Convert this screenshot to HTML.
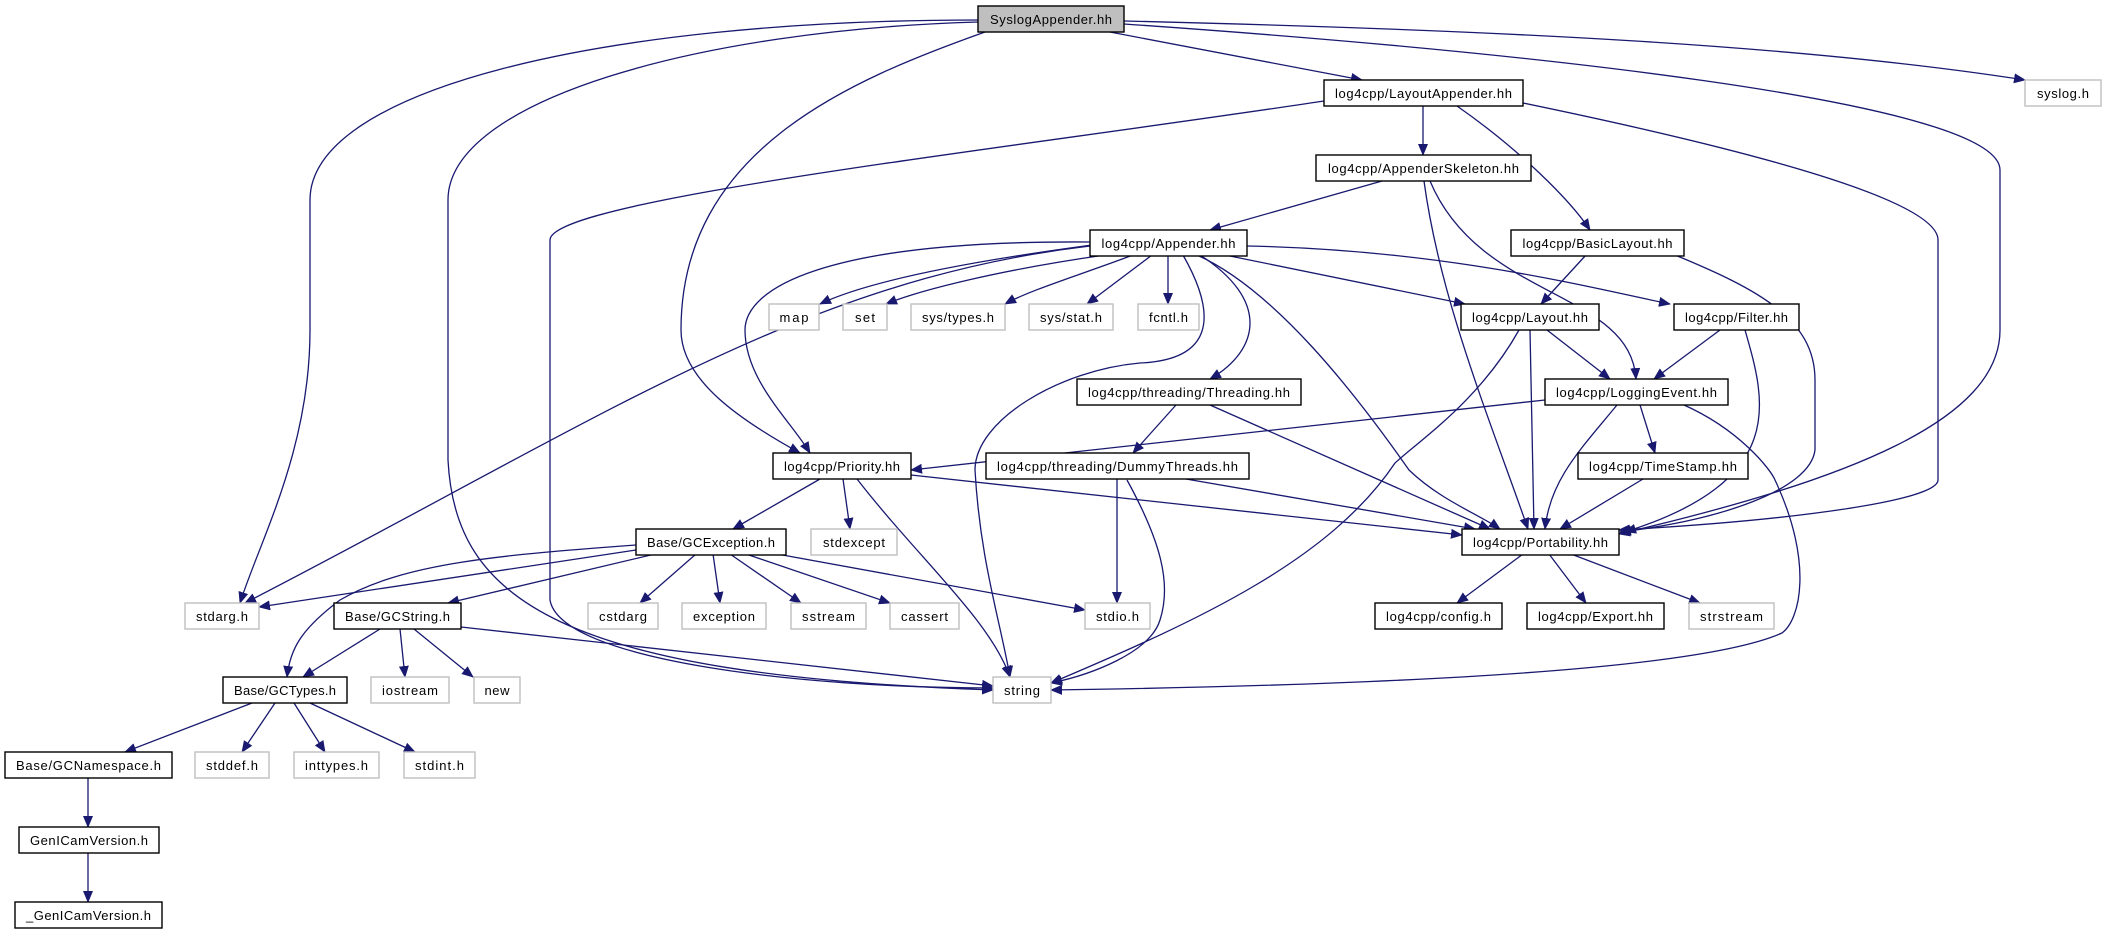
<!DOCTYPE html>
<html><head><meta charset="utf-8"><style>
html,body{margin:0;padding:0;background:#fff;}
svg{display:block}
text{font-family:"Liberation Sans",sans-serif;font-size:13px;fill:#000}
.e{fill:none;stroke:#191970;stroke-width:1.3}
.b{fill:#fff;stroke:#000;stroke-width:1.4}
.g{fill:#fff;stroke:#bfbfbf;stroke-width:1.4}
</style></head><body>
<svg width="2106" height="933" viewBox="0 0 2106 933" xmlns="http://www.w3.org/2000/svg">
<defs><marker id="a" markerUnits="userSpaceOnUse" markerWidth="12" markerHeight="10" refX="11" refY="5" orient="auto"><path d="M0,0 L12,5 L0,10 z" fill="#191970"/></marker></defs>
<g class="e" marker-end="url(#a)">
<!-- Syslog -->
<path d="M1110,32 L1362,80"/>
<path d="M1124,21 C1500,30 1800,45 2025,80"/>
<path d="M1124,24 C1500,50 2000,100 2000,170 L2000,330 C2000,420 1850,480 1619,534"/>
<path d="M978,20 C600,20 310,90 310,200 L310,330 C310,450 260,540 240,603"/>
<path d="M978,22 C700,30 448,100 448,200 L448,460 C455,600 560,675 993,690"/>
<path d="M985,32 C850,80 681,150 681,330 C681,380 740,420 800,453"/>
<!-- LayoutAppender -->
<path d="M1423,106 L1423,155"/>
<path d="M1457,106 C1520,150 1570,200 1590,230"/>
<path d="M1324,101 C1000,150 550,200 550,240 L550,600 C560,660 800,688 993,688"/>
<path d="M1523,103 C1750,150 1938,200 1938,240 L1938,480 C1938,500 1800,520 1619,530"/>
<!-- AppenderSkeleton -->
<path d="M1382,181 L1210,230"/>
<path d="M1424,181 C1440,300 1490,420 1528,529"/>
<path d="M1430,181 C1480,300 1630,290 1636,379"/>
<!-- BasicLayout -->
<path d="M1586,255 L1541,304"/>
<path d="M1675,255 C1760,290 1815,320 1815,380 L1815,450 C1810,490 1720,520 1620,532"/>
<!-- Appender -->
<path d="M1092,245 C980,260 870,280 820,304"/>
<path d="M1105,255 C1000,270 920,290 886,304"/>
<path d="M1133,255 C1080,275 1030,290 1005,304"/>
<path d="M1152,255 L1087,304"/>
<path d="M1168,255 L1168,304"/>
<path d="M1225,255 L1465,304"/>
<path d="M1247,246 C1450,250 1600,290 1670,304"/>
<path d="M1200,255 C1270,300 1260,350 1210,379"/>
<path d="M1090,242 C820,240 745,290 745,330 C745,380 790,420 810,453"/>
<path d="M1090,246 C800,280 600,420 245,603"/>
<path d="M1183,255 C1220,320 1210,360 1140,363 C1060,370 975,420 975,470 C980,560 1000,620 1010,677"/>
<path d="M1197,255 C1275,290 1355,393 1409,470 C1440,500 1480,515 1500,529"/>
<!-- Layout -->
<path d="M1547,330 L1610,379"/>
<path d="M1530,330 L1534,529"/>
<path d="M1519,330 C1480,400 1420,440 1395,463 C1330,560 1200,620 1051,683"/>
<!-- Filter -->
<path d="M1720,330 L1654,379"/>
<path d="M1745,330 C1765,400 1790,480 1625,532"/>
<!-- Threading -->
<path d="M1176,405 L1133,453"/>
<path d="M1210,405 L1490,529"/>
<!-- LoggingEvent -->
<path d="M1545,400 L911,470"/>
<path d="M1640,405 L1655,453"/>
<path d="M1617,405 C1580,450 1550,480 1545,529"/>
<path d="M1684,405 C1740,430 1771,470 1775,480 C1814,563 1800,620 1782,633 C1700,670 1400,685 1051,690"/>
<!-- Priority -->
<path d="M820,479 L733,529"/>
<path d="M843,479 L850,529"/>
<path d="M857,479 C920,560 990,620 1010,677"/>
<path d="M911,475 L1462,535"/>
<!-- DummyThreads -->
<path d="M1117,479 L1117,603"/>
<path d="M1127,480 C1160,540 1172,583 1160,620 C1150,653 1090,675 1051,683"/>
<path d="M1186,479 L1475,529"/>
<!-- TimeStamp -->
<path d="M1643,479 L1560,529"/>
<!-- GCException -->
<path d="M636,550 L259,607"/>
<path d="M636,545 C500,555 403,563 340,600 C300,630 290,650 287,677"/>
<path d="M655,554 L448,603"/>
<path d="M696,554 L640,603"/>
<path d="M713,554 L720,603"/>
<path d="M730,554 L801,603"/>
<path d="M746,554 L890,603"/>
<path d="M777,554 L1085,610"/>
<!-- GCString -->
<path d="M380,629 L303,677"/>
<path d="M400,629 L405,677"/>
<path d="M414,629 L473,677"/>
<path d="M461,627 L993,686"/>
<!-- GCTypes -->
<path d="M252,703 L125,752"/>
<path d="M275,703 L242,752"/>
<path d="M294,703 L325,752"/>
<path d="M310,703 L415,752"/>
<path d="M88,778 L88,827"/>
<path d="M88,852 L88,902"/>
<!-- Portability -->
<path d="M1523,554 L1457,603"/>
<path d="M1549,554 L1586,603"/>
<path d="M1571,554 L1700,603"/>
</g>
<g>
<rect x="978" y="6" width="146" height="26" fill="#bfbfbf" stroke="#000" stroke-width="1.4"/><text x="1051" y="24" text-anchor="middle" textLength="122">SyslogAppender.hh</text>
<rect class="b" x="1324" y="80" width="199" height="26"/><text x="1423.5" y="98" text-anchor="middle" textLength="177">log4cpp/LayoutAppender.hh</text>
<rect class="g" x="2025" y="80" width="76" height="26"/><text x="2063" y="98" text-anchor="middle" textLength="52">syslog.h</text>
<rect class="b" x="1316" y="155" width="215" height="26"/><text x="1423.5" y="173" text-anchor="middle" textLength="191">log4cpp/AppenderSkeleton.hh</text>
<rect class="b" x="1090" y="230" width="157" height="26"/><text x="1168.5" y="248" text-anchor="middle" textLength="134">log4cpp/Appender.hh</text>
<rect class="b" x="1511" y="230" width="173" height="26"/><text x="1597.5" y="248" text-anchor="middle" textLength="150">log4cpp/BasicLayout.hh</text>
<rect class="g" x="769" y="304" width="50" height="26"/><text x="794" y="322" text-anchor="middle" textLength="29">map</text>
<rect class="g" x="843" y="304" width="44" height="26"/><text x="865" y="322" text-anchor="middle" textLength="20">set</text>
<rect class="g" x="911" y="304" width="94" height="26"/><text x="958" y="322" text-anchor="middle" textLength="72">sys/types.h</text>
<rect class="g" x="1029" y="304" width="84" height="26"/><text x="1071" y="322" text-anchor="middle" textLength="62">sys/stat.h</text>
<rect class="g" x="1138" y="304" width="61" height="26"/><text x="1168.5" y="322" text-anchor="middle" textLength="39">fcntl.h</text>
<rect class="b" x="1461" y="304" width="138" height="26"/><text x="1530" y="322" text-anchor="middle" textLength="116">log4cpp/Layout.hh</text>
<rect class="b" x="1674" y="304" width="125" height="26"/><text x="1736.5" y="322" text-anchor="middle" textLength="103">log4cpp/Filter.hh</text>
<rect class="b" x="1077" y="379" width="224" height="26"/><text x="1189" y="397" text-anchor="middle" textLength="202">log4cpp/threading/Threading.hh</text>
<rect class="b" x="1545" y="379" width="183" height="26"/><text x="1636.5" y="397" text-anchor="middle" textLength="161">log4cpp/LoggingEvent.hh</text>
<rect class="b" x="773" y="453" width="138" height="26"/><text x="842" y="471" text-anchor="middle" textLength="116">log4cpp/Priority.hh</text>
<rect class="b" x="986" y="453" width="263" height="26"/><text x="1117.5" y="471" text-anchor="middle" textLength="241">log4cpp/threading/DummyThreads.hh</text>
<rect class="b" x="1578" y="453" width="170" height="26"/><text x="1663" y="471" text-anchor="middle" textLength="148">log4cpp/TimeStamp.hh</text>
<rect class="b" x="636" y="529" width="150" height="26"/><text x="711" y="547" text-anchor="middle" textLength="128">Base/GCException.h</text>
<rect class="g" x="811" y="529" width="86" height="26"/><text x="854" y="547" text-anchor="middle" textLength="62">stdexcept</text>
<rect class="b" x="1462" y="529" width="157" height="26"/><text x="1540.5" y="547" text-anchor="middle" textLength="135">log4cpp/Portability.hh</text>
<rect class="g" x="185" y="603" width="74" height="26"/><text x="222" y="621" text-anchor="middle" textLength="52">stdarg.h</text>
<rect class="b" x="334" y="603" width="127" height="26"/><text x="397.5" y="621" text-anchor="middle" textLength="105">Base/GCString.h</text>
<rect class="g" x="588" y="603" width="70" height="26"/><text x="623" y="621" text-anchor="middle" textLength="48">cstdarg</text>
<rect class="g" x="682" y="603" width="84" height="26"/><text x="724" y="621" text-anchor="middle" textLength="62">exception</text>
<rect class="g" x="791" y="603" width="75" height="26"/><text x="828.5" y="621" text-anchor="middle" textLength="53">sstream</text>
<rect class="g" x="890" y="603" width="69" height="26"/><text x="924.5" y="621" text-anchor="middle" textLength="47">cassert</text>
<rect class="g" x="1085" y="603" width="65" height="26"/><text x="1117.5" y="621" text-anchor="middle" textLength="43">stdio.h</text>
<rect class="b" x="1375" y="603" width="127" height="26"/><text x="1438.5" y="621" text-anchor="middle" textLength="105">log4cpp/config.h</text>
<rect class="b" x="1527" y="603" width="137" height="26"/><text x="1595.5" y="621" text-anchor="middle" textLength="115">log4cpp/Export.hh</text>
<rect class="g" x="1689" y="603" width="85" height="26"/><text x="1731.5" y="621" text-anchor="middle" textLength="63">strstream</text>
<rect class="b" x="223" y="677" width="124" height="26"/><text x="285" y="695" text-anchor="middle" textLength="102">Base/GCTypes.h</text>
<rect class="g" x="371" y="677" width="78" height="26"/><text x="410" y="695" text-anchor="middle" textLength="56">iostream</text>
<rect class="g" x="474" y="677" width="46" height="26"/><text x="497" y="695" text-anchor="middle" textLength="25">new</text>
<rect class="g" x="993" y="677" width="58" height="26"/><text x="1022" y="695" text-anchor="middle" textLength="36">string</text>
<rect class="b" x="5" y="752" width="167" height="26"/><text x="88.5" y="770" text-anchor="middle" textLength="145">Base/GCNamespace.h</text>
<rect class="g" x="195" y="752" width="74" height="26"/><text x="232" y="770" text-anchor="middle" textLength="52">stddef.h</text>
<rect class="g" x="294" y="752" width="85" height="26"/><text x="336.5" y="770" text-anchor="middle" textLength="63">inttypes.h</text>
<rect class="g" x="404" y="752" width="71" height="26"/><text x="439.5" y="770" text-anchor="middle" textLength="49">stdint.h</text>
<rect class="b" x="19" y="827" width="140" height="26"/><text x="89" y="845" text-anchor="middle" textLength="118">GenICamVersion.h</text>
<rect class="b" x="15" y="902" width="147" height="26"/><text x="88.5" y="920" text-anchor="middle" textLength="125">_GenICamVersion.h</text>
</g>
</svg>
</body></html>
